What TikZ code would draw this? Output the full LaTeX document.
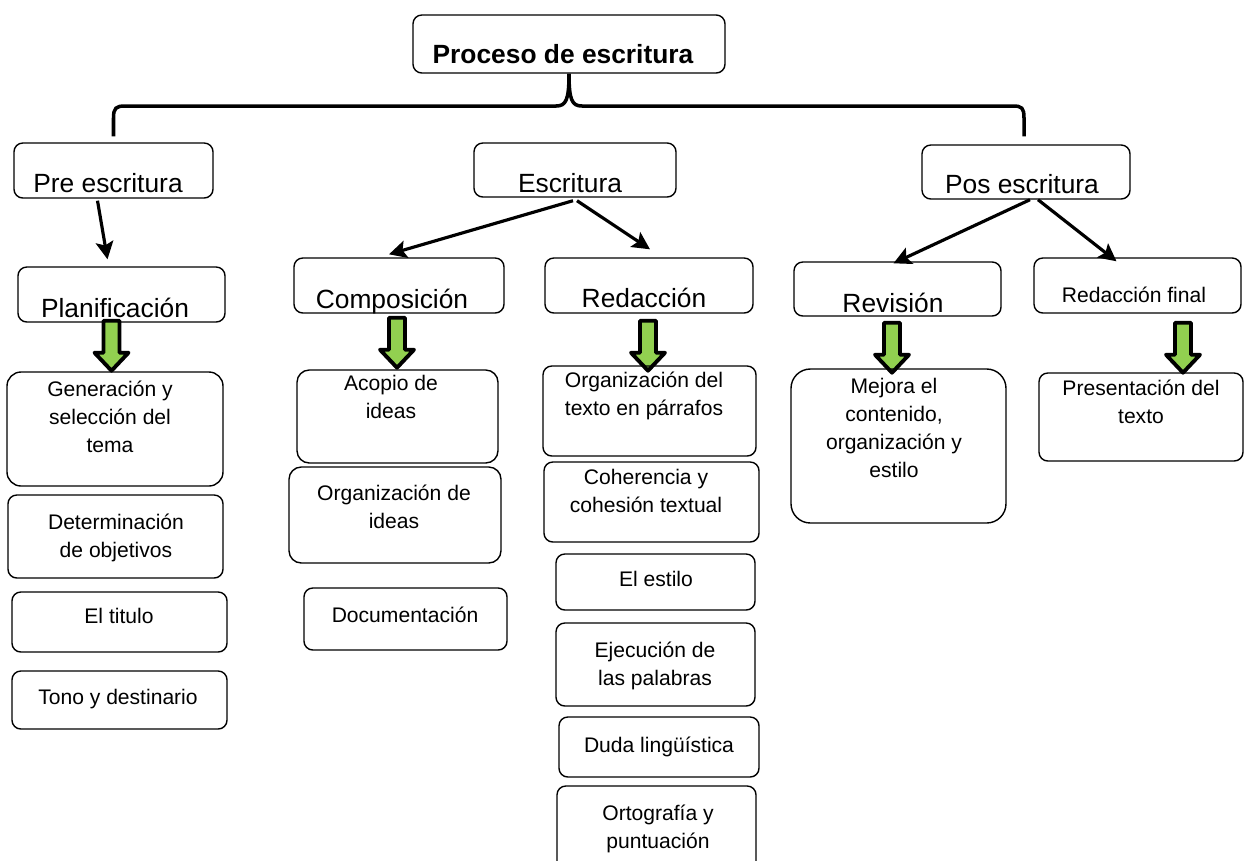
\documentclass[tikz,border=0pt]{standalone}
\usepackage{fontspec}
\setmainfont{Liberation Sans}
\usetikzlibrary{arrows.meta,positioning,calc,fit}
\definecolor{verde}{HTML}{92D050}

\tikzset{
  caja/.style={draw, rounded corners=5pt, line width=0.8pt, inner sep=0pt},
  txtgrande/.style={font=\fontsize{15}{18}\selectfont, inner sep=0pt, anchor=base},
  txtchico/.style={font=\fontsize{12}{15.9}\selectfont, align=center, inner sep=0pt, anchor=base},
  flecha/.style={line width=1.8pt, -{Stealth[length=10pt,width=10pt,inset=2pt]}},
  llave/.style={line width=2pt},
  bajada/.style={draw, line width=2.2pt, fill=verde, line join=round}
}
\newcommand{\flechaverde}[1]{\draw[bajada, shift={(#1)}] (-8,0) -- (8,0) -- (8,32) -- (17,32) -- (0,50) -- (-17,32) -- (-8,32) -- cycle;}

\begin{document}
\begin{tikzpicture}[x=0.02cm, y=-0.02cm]
    \useasboundingbox (0,0) rectangle (1244,860);

    % titulo
    \node[caja, fit={(413,15) (725,73)}] (titulo) {};
    \node[txtgrande, font=\bfseries\fontsize{15}{18}\selectfont] (ttitulo) at (563,63) {Proceso de escritura};

    % etapas
    \node[caja, fit={(14,143) (213,198)}] (pre) {};
    \node[txtgrande] (tpre) at (108,192) {Pre escritura};
    \node[caja, fit={(474,143) (676,197)}] (esc) {};
    \node[txtgrande] (tesc) at (570,192) {Escritura};
    \node[caja, fit={(922,145) (1130,199)}] (pos) {};
    \node[txtgrande] (tpos) at (1022,193) {Pos escritura};

    \draw[llave] ($(pre.north)+(0,-6)$) -- (113.5,118) .. controls (113.5,108) and (116,106) .. (125,106) -- (556,106) .. controls (566,106) and (569,100) .. (titulo.south) .. controls (569,100) and (572,106) .. (582,106) -- (1013,106) .. controls (1022,106) and (1024,108) .. (1024,118) -- ($(pos.north)+(-2,-8)$);

    % subetapas
    \node[caja, fit={(18,267) (225,322)}] (plan) {};
    \node[txtgrande] (tplan) at (115,317) {Planificación};
    \node[caja, fit={(294,258) (504,313)}] (comp) {};
    \node[txtgrande] (tcomp) at (392,308) {Composición};
    \node[caja, fit={(545,258) (753,313)}] (red) {};
    \node[txtgrande] (tred) at (644,307) {Redacción};
    \node[caja, fit={(794,262) (1001,316)}] (rev) {};
    \node[txtgrande] (trev) at (893,312) {Revisión};
    \node[caja, fit={(1034,258) (1241,313)}] (rfin) {};
    \node[txtchico] (trfin) at (1134,302) {Redacción final};

    \draw[flecha] ($(pre.south)+(-16,2)$) -- ($(plan.north)+(-14,-7)$);
    \draw[flecha] ($(esc.south)+(-2,3)$) -- ($(comp.north)+(-10,-3)$);
    \draw[flecha] ($(esc.south)+(2,3)$) -- ($(red.north)+(1,-8)$);
    \draw[flecha] ($(pos.south)+(4,0)$) -- ($(rev.north)+(-4,2)$);
    \draw[flecha] ($(pos.south)+(12,0)$) -- ($(rfin.north)+(-21,4)$);

    % flechas verdes
    \coordinate (v1) at ($(plan.south)+(-10,-2)$);
    \coordinate (v2) at ($(comp.south)+(-2,4)$);
    \coordinate (v3) at ($(red.south)+(-1,7)$);
    \coordinate (v4) at ($(rev.south)+(-5.5,6)$);
    \coordinate (v5) at ($(rfin.south)+(45.5,9)$);
    \flechaverde{v1}
    \flechaverde{v2}
    \flechaverde{v3}
    \flechaverde{v4}
    \flechaverde{v5}

    % pre escritura (texto anclado en la ultima linea)
    \node[caja, rounded corners=8pt, fit={(7,372) (223,486)}] (gen) {};
    \node[txtchico] (tgen) at (110,452) {Generación y\\selección del\\tema};
    \node[caja, fit={(8,495) (223,578)}] (det) {};
    \node[txtchico] (tdet) at (116,557) {Determinación\\de objetivos};
    \node[caja, fit={(12,592) (227,652)}] (tit) {};
    \node[txtchico] (ttit) at (119,623) {El titulo};
    \node[caja, fit={(12,671) (227,729)}] (tono) {};
    \node[txtchico] (ttono) at (118,704) {Tono y destinario};

    % composicion
    \node[caja, rounded corners=7pt, fit={(297,370) (498,463)}] (aco) {};
    \node[txtchico] (taco) at (391,418) {Acopio de\\ideas};
    \node[caja, rounded corners=7pt, fit={(289,467) (501,563)}] (orgi) {};
    \node[txtchico] (torgi) at (394,528) {Organización de\\ideas};
    \node[caja, fit={(304,588) (507,650)}] (doc) {};
    \node[txtchico] (tdoc) at (405,622) {Documentación};

    % redaccion
    \node[caja, fit={(543,366) (756,456)}] (orgt) {};
    \node[txtchico] (torgt) at (644,415) {Organización del\\texto en párrafos};
    \node[caja, fit={(544,462) (759,542)}] (coh) {};
    \node[txtchico] (tcoh) at (646,512) {Coherencia y\\cohesión textual};
    \node[caja, fit={(556,554) (755,610)}] (est) {};
    \node[txtchico] (test) at (656,586) {El estilo};
    \node[caja, fit={(556,623) (755,706)}] (eje) {};
    \node[txtchico] (teje) at (655,685) {Ejecución de\\las palabras};
    \node[caja, fit={(559,717) (759,777)}] (duda) {};
    \node[txtchico] (tduda) at (659,752) {Duda lingüística};
    \node[caja, fit={(557,786) (756,875)}] (orto) {};
    \node[txtchico] (torto) at (658,848) {Ortografía y\\puntuación};

    % revision y redaccion final
    \node[caja, rounded corners=11pt, fit={(791,369) (1006,523)}] (mej) {};
    \node[txtchico] (tmej) at (894,477) {Mejora el\\contenido,\\organización y\\estilo};
    \node[caja, fit={(1039,373) (1243,461)}] (pres) {};
    \node[txtchico] (tpres) at (1141,423) {Presentación del\\texto};
\end{tikzpicture}
\end{document}
